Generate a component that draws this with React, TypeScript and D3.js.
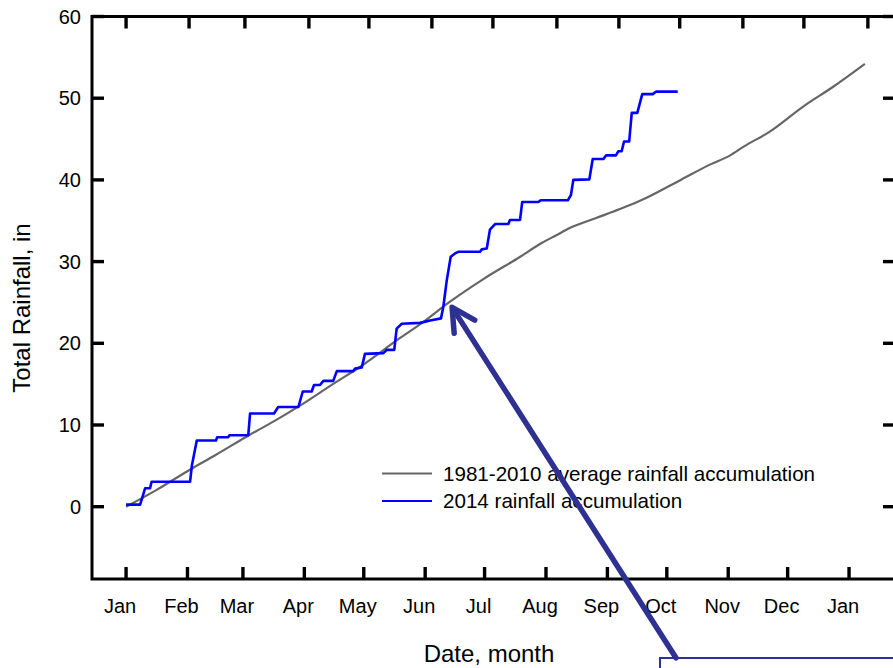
import { useEffect, useRef } from "react";
import * as d3 from "d3";

// month axis (days since Jan 1 2014)
const monthLabels = ["Jan", "Feb", "Mar", "Apr", "May", "Jun", "Jul", "Aug", "Sep", "Oct", "Nov", "Dec", "Jan"];
const monthStartDays = [0, 31, 59, 90, 120, 151, 181, 212, 243, 273, 304, 334, 365];
// the top frame ticks are not spaced like the bottom ones in the original
const topTickDays = [0, 31.8, 60, 92.3, 122.6, 154.4, 185.2, 217.5, 248.8, 279.5, 311.4, 342.2, 374.5];
const yTicks = [0, 10, 20, 30, 40, 50, 60];

// 1981-2010 average accumulation
const avgDays = [0, 15, 32, 45, 61, 75, 88, 105, 118, 138, 150, 163, 180, 199, 210, 217, 224, 237, 249, 260, 280, 295, 305, 312, 325, 342, 357, 373];
const avgValues = [0, 2.0, 4.5, 6.3, 8.6, 10.5, 12.4, 15.1, 17.1, 20.6, 22.6, 25.0, 27.8, 30.6, 32.3, 33.2, 34.1, 35.3, 36.4, 37.5, 40.0, 41.9, 43.0, 44.1, 45.9, 49.0, 51.4, 54.2];

// 2014 accumulation
const obsDays = [0, 7.1, 9.6, 12.1, 12.9, 32.3, 33.2, 35.7, 45.4, 46.0, 51.5, 52.2, 61.7, 62.6, 74.7, 76.8, 87, 89.2, 93.7, 94.9, 97.9, 99.6, 104.6, 106.4, 114.7, 115.6, 119, 120.6, 129.9, 131.6, 135.4, 136.6, 139.2, 148.4, 153.5, 159, 160.2, 161.9, 163.9, 166.1, 167.7, 178.7, 179.6, 182.1, 183.7, 186.3, 193, 193.8, 198.9, 200, 208.1, 209.3, 223, 224.6, 225.8, 233.9, 235.6, 241, 242.3, 247.3, 248.5, 250.2, 251.4, 254, 255.3, 258.1, 260.6, 265.9, 267.5, 278.5];
const obsValues = [0.25, 0.25, 2.25, 2.25, 3.05, 3.05, 5.0, 8.1, 8.1, 8.5, 8.5, 8.75, 8.75, 11.4, 11.4, 12.2, 12.2, 14.1, 14.1, 14.9, 14.9, 15.4, 15.4, 16.6, 16.6, 16.9, 17.05, 18.7, 18.8, 19.2, 19.2, 21.8, 22.4, 22.5, 22.8, 23.05, 24.5, 27.7, 30.6, 31.0, 31.2, 31.2, 31.5, 31.6, 33.9, 34.6, 34.6, 35.1, 35.1, 37.3, 37.3, 37.5, 37.5, 38.15, 40.0, 40.07, 42.55, 42.55, 43.0, 43.0, 43.5, 43.5, 44.7, 44.7, 48.2, 48.2, 50.5, 50.5, 50.8, 50.8];

const seriesNames = ["1981-2010 average rainfall accumulation", "2014 rainfall accumulation"];

// annotation arrow, in data units
const arrowTip = { day: 164.6, value: 24.4 };
const arrowTail = { day: 277.6, value: -18.5 };

const FONT = "'Liberation Sans', Arial, Helvetica, sans-serif";

const App = () => {
  const svgRef = useRef(null);

  useEffect(() => {
    if (!svgRef.current) return;
    d3.select(svgRef.current).selectAll("*").remove();

    const W = 893;
    const H = 668;
    const left = 92;
    const right = 895;
    const top = 16.5;
    const bottom = 579;

    const svg = d3.select(svgRef.current).attr("width", W).attr("height", H);

    const x = d3.scaleLinear().domain([-17.2, 388.2]).range([left, right]);
    const y = d3.scaleLinear().domain([-8.85, 60]).range([bottom, top]);

    const avgData = avgDays.map((d, i) => ({ day: d, value: avgValues[i] }));
    const obsData = obsDays.map((d, i) => ({ day: d, value: obsValues[i] }));

    // frame
    svg
      .append("rect")
      .attr("x", left)
      .attr("y", top)
      .attr("width", right - left)
      .attr("height", bottom - top)
      .attr("fill", "none")
      .attr("stroke", "#000")
      .attr("stroke-width", 3);

    const tickLen = 12;
    const tickW = 3.4;
    // bottom ticks + labels
    monthStartDays.forEach((d, i) => {
      svg
        .append("line")
        .attr("x1", x(d))
        .attr("x2", x(d))
        .attr("y1", bottom)
        .attr("y2", bottom - tickLen)
        .attr("stroke", "#000")
        .attr("stroke-width", tickW);
      svg
        .append("text")
        .attr("x", x(d) - 6)
        .attr("y", 613)
        .attr("text-anchor", "middle")
        .attr("font-family", FONT)
        .attr("font-size", 20)
        .attr("fill", "#000")
        .text(monthLabels[i]);
    });

    // top ticks
    topTickDays.forEach((d) => {
      svg
        .append("line")
        .attr("x1", x(d))
        .attr("x2", x(d))
        .attr("y1", top)
        .attr("y2", top + tickLen)
        .attr("stroke", "#000")
        .attr("stroke-width", tickW);
    });

    // y ticks, both sides
    yTicks.forEach((v) => {
      svg
        .append("line")
        .attr("x1", left)
        .attr("x2", left + tickLen)
        .attr("y1", y(v))
        .attr("y2", y(v))
        .attr("stroke", "#000")
        .attr("stroke-width", tickW);
      svg
        .append("line")
        .attr("x1", right)
        .attr("x2", right - tickLen)
        .attr("y1", y(v))
        .attr("y2", y(v))
        .attr("stroke", "#000")
        .attr("stroke-width", tickW);
      svg
        .append("text")
        .attr("x", 81)
        .attr("y", y(v))
        .attr("dy", "0.36em")
        .attr("text-anchor", "end")
        .attr("font-family", FONT)
        .attr("font-size", 20)
        .attr("fill", "#000")
        .text(v);
    });

    // series
    const avgLine = d3
      .line<any>()
      .x((d) => x(d.day))
      .y((d) => y(d.value))
      .curve(d3.curveMonotoneX);
    svg
      .append("path")
      .datum(avgData)
      .attr("fill", "none")
      .attr("stroke", "#666666")
      .attr("stroke-width", 2.2)
      .attr("d", avgLine);

    const obsLine = d3
      .line<any>()
      .x((d) => x(d.day))
      .y((d) => y(d.value));
    svg
      .append("path")
      .datum(obsData)
      .attr("fill", "none")
      .attr("stroke", "#0000ff")
      .attr("stroke-width", 2.6)
      .attr("stroke-linejoin", "round")
      .attr("d", obsLine);

    // legend
    const legendColors = ["#666666", "#0000ff"];
    seriesNames.forEach((name, i) => {
      const ly = 473.5 + i * 27.5;
      svg
        .append("line")
        .attr("x1", 382)
        .attr("x2", 432)
        .attr("y1", ly)
        .attr("y2", ly)
        .attr("stroke", legendColors[i])
        .attr("stroke-width", 2);
      svg
        .append("text")
        .attr("x", 443)
        .attr("y", ly)
        .attr("dy", "0.36em")
        .attr("font-family", FONT)
        .attr("font-size", 20.6)
        .attr("fill", "#000")
        .text(name);
    });

    // axis titles
    svg
      .append("text")
      .attr("transform", `translate(30, 308) rotate(-90)`)
      .attr("text-anchor", "middle")
      .attr("font-family", FONT)
      .attr("font-size", 24)
      .attr("fill", "#000")
      .text("Total Rainfall, in");

    svg
      .append("text")
      .attr("x", 489)
      .attr("y", 662)
      .attr("text-anchor", "middle")
      .attr("font-family", FONT)
      .attr("font-size", 24)
      .attr("fill", "#000")
      .text("Date, month");

    // annotation box + arrow
    const navy = "#2e3192";
    svg
      .append("rect")
      .attr("x", 660)
      .attr("y", 658)
      .attr("width", 300)
      .attr("height", 60)
      .attr("fill", "#fff")
      .attr("stroke", navy)
      .attr("stroke-width", 2);

    const tx = x(arrowTip.day);
    const ty = y(arrowTip.value);
    const sx = x(arrowTail.day);
    const sy = y(arrowTail.value);
    const ang = Math.atan2(sy - ty, sx - tx);
    const headLen = 26;
    const spread = (28 * Math.PI) / 180;
    svg
      .append("line")
      .attr("x1", sx)
      .attr("y1", sy)
      .attr("x2", tx + Math.cos(ang) * 3)
      .attr("y2", ty + Math.sin(ang) * 3)
      .attr("stroke", navy)
      .attr("stroke-width", 5.5)
      .attr("stroke-linecap", "round");
    svg
      .append("path")
      .attr(
        "d",
        `M${tx + Math.cos(ang + spread) * headLen},${ty + Math.sin(ang + spread) * headLen}L${tx},${ty}L${
          tx + Math.cos(ang - spread) * headLen
        },${ty + Math.sin(ang - spread) * headLen}`,
      )
      .attr("fill", "none")
      .attr("stroke", navy)
      .attr("stroke-width", 5.5)
      .attr("stroke-linecap", "round")
      .attr("stroke-linejoin", "round");
  }, []);

  return (
    <div style={{ position: "absolute", left: 0, top: 0, width: 893, height: 668, overflow: "hidden", background: "#fff" }}>
      <svg ref={svgRef} style={{ display: "block" }} />
    </div>
  );
};

export default App;
